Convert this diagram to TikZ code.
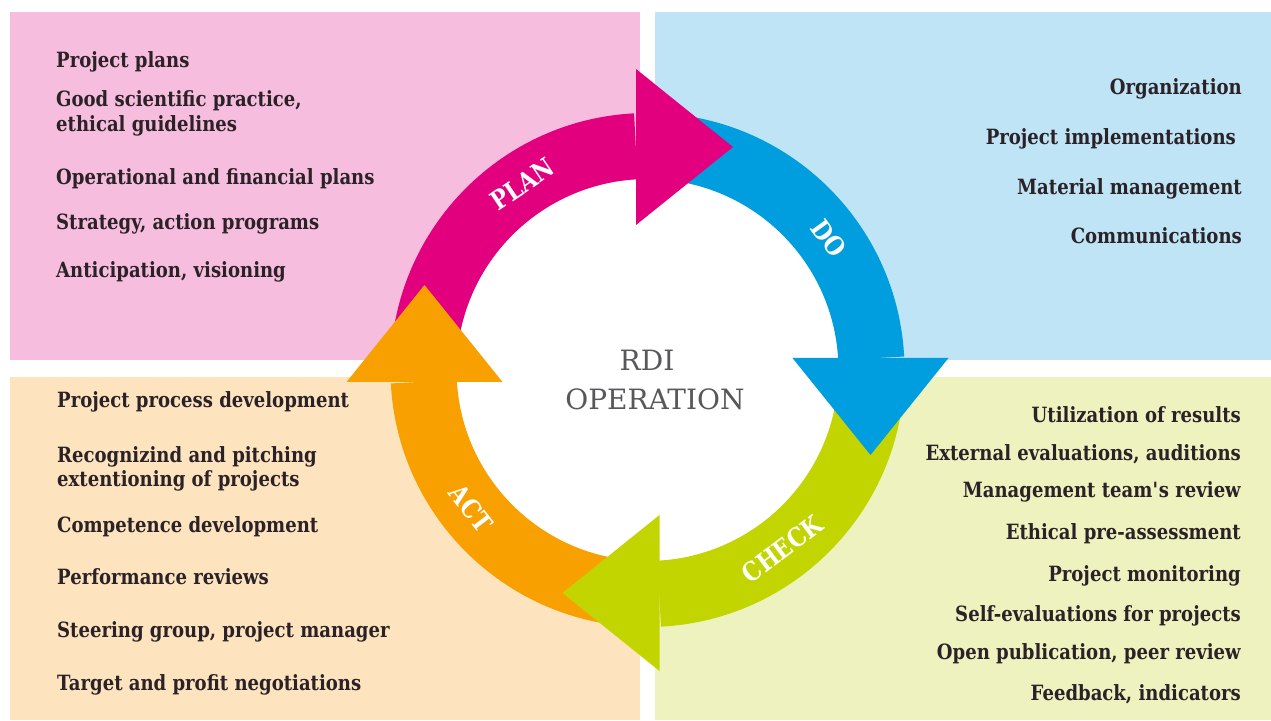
\documentclass[tikz,border=0pt]{standalone}
\usepackage{fontspec}
\setmainfont{DejaVu Serif}
\newfontfamily\listfont{DejaVu Serif}[FakeStretch=0.86]
\usetikzlibrary{positioning}

\definecolor{ink}{HTML}{2A2226}
\definecolor{midgray}{HTML}{58585A}
\definecolor{planbg}{HTML}{F6BDDE}
\definecolor{dobg}{HTML}{BEE4F6}
\definecolor{checkbg}{HTML}{EDF2BF}
\definecolor{actbg}{HTML}{FDE4BF}
\definecolor{plancol}{HTML}{E3007E}
\definecolor{docol}{HTML}{009EDF}
\definecolor{checkcol}{HTML}{C2D500}
\definecolor{actcol}{HTML}{F8A000}

\newcommand{\ringpart}[3]{%
  \fill[#1] ([shift={(#2:257)}]c) arc[start angle=#2,end angle=#3,radius=257pt]
    -- ([shift={(#3:191)}]c) arc[start angle=#3,end angle=#2,radius=191pt] -- cycle;}

\begin{document}
\begin{tikzpicture}[x=1pt,y=1pt,
  item/.style={font=\listfont\bfseries\fontsize{21}{21}\selectfont,text=ink,inner sep=0pt},
  phase/.style={font=\listfont\bfseries\fontsize{26}{26}\selectfont,text=white,inner sep=0pt},
  centre/.style={font=\fontsize{28}{28}\selectfont,text=midgray,inner sep=0pt,anchor=base}]
\useasboundingbox (0,0) rectangle (1271,720);
\fill[planbg] (10,360) rectangle (640,708);
\fill[dobg] (655,360) rectangle (1271,708);
\fill[actbg] (10,0) rectangle (640,343);
\fill[checkbg] (655,0) rectangle (1271,343);

\coordinate (c) at (647.5,350);
\fill[white] (c) circle[radius=191pt];
\ringpart{plancol}{180}{93}
\ringpart{docol}{90}{3}
\ringpart{checkcol}{0}{-87}
\ringpart{actcol}{270}{183}
% arrow heads
\fill[plancol] (636,495) -- (733,573) -- (636,651) -- cycle;
\fill[docol] (792.5,362) -- (870.5,265) -- (948.5,362) -- cycle;
\fill[checkcol] (659.5,49) -- (562.5,127) -- (659.5,205) -- cycle;
\fill[actcol] (346.5,338) -- (424.5,435) -- (502.5,338) -- cycle;

\node[phase,rotate=34] (plan) at ([shift={(124:224)}]c) {PLAN};
\node[phase,rotate=-54] (do) at ([shift={(36:224)}]c) {DO};
\node[phase,rotate=37] (check) at ([shift={(-53:224)}]c) {CHECK};
\node[phase,rotate=-52] (act) at ([shift={(218:224)}]c) {ACT};

\node[centre] (rdi) at (647,349) {RDI};
\node[centre] (operation) at (655,310) {OPERATION};

\foreach \y/\txt [count=\i] in {652/Project plans, 613/{Good scientific practice,},
    588/ethical guidelines, 535/Operational and financial plans,
    490/{Strategy, action programs}, 442/{Anticipation, visioning}}
  \node[item,anchor=base west] (planitem\i) at (56,\y) {\txt};
\foreach \x/\y/\txt [count=\i] in {1242/625/Organization, 1236/575/Project implementations,
    1242/525/Material management, 1242/476/Communications}
  \node[item,anchor=base east] (doitem\i) at (\x,\y) {\txt};
\foreach \y/\txt [count=\i] in {312/Project process development, 257/Recognizind and pitching,
    233/extentioning of projects, 187/Competence development, 135/Performance reviews,
    82/{Steering group, project manager}, 30/Target and profit negotiations}
  \node[item,anchor=base west] (actitem\i) at (57,\y) {\txt};
\foreach \y/\txt [count=\i] in {297/Utilization of results, 259/{External evaluations, auditions},
    222/Management team\textquotesingle s review, 180/Ethical pre-assessment,
    138/Project monitoring, 98/Self-evaluations for projects,
    60/{Open publication, peer review}, 20/{Feedback, indicators}}
  \node[item,anchor=base east] (checkitem\i) at (1241,\y) {\txt};
\end{tikzpicture}
\end{document}
